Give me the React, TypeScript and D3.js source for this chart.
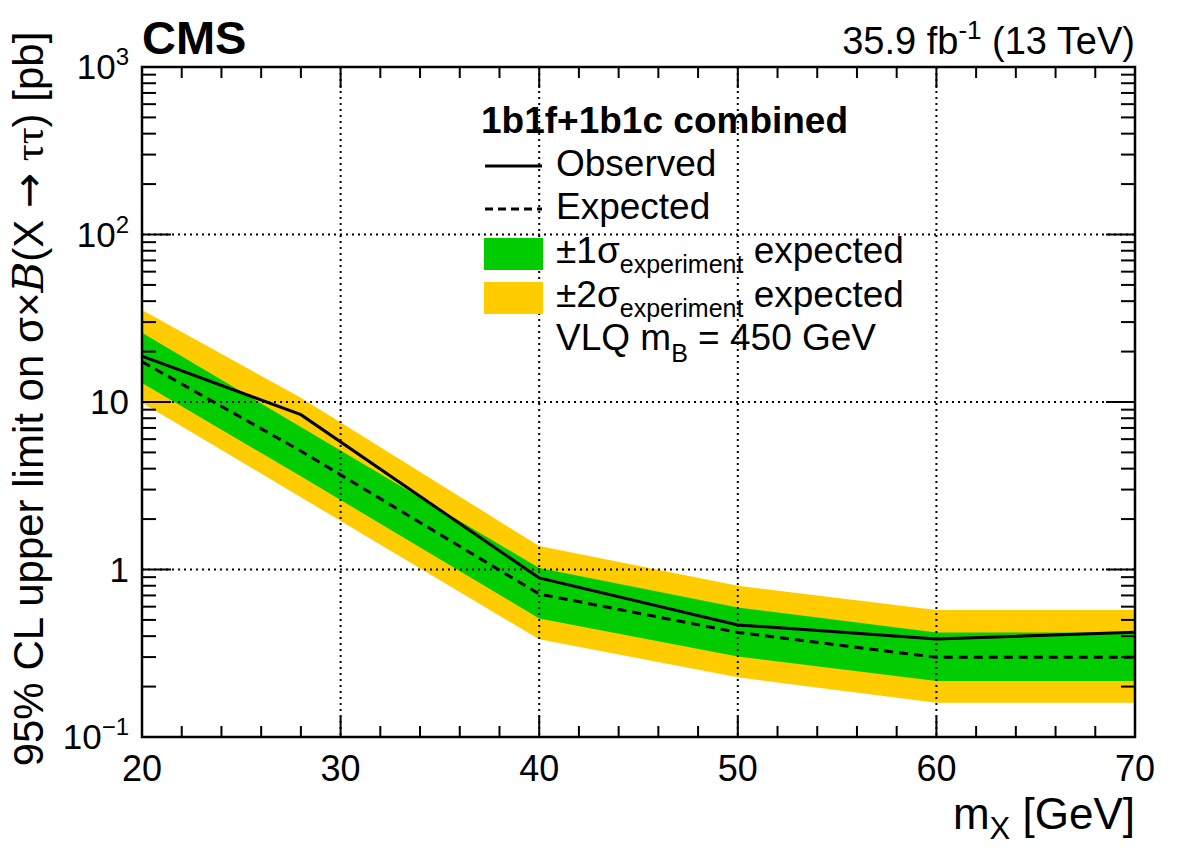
import React from 'react';
import * as d3 from 'd3';

// mass points [GeV] and limits [pb]
const massPoints = [20, 28, 40, 50, 60, 70];
const observed = [18.8, 8.4, 0.89, 0.467, 0.385, 0.422];
const expected = [17.4, 5.1, 0.714, 0.421, 0.299, 0.299];
const oneSigmaLow = [13.0, 3.6, 0.51, 0.302, 0.216, 0.216];
const oneSigmaHigh = [25.9, 7.1, 1.02, 0.594, 0.42, 0.42];
const twoSigmaLow = [9.9, 2.7, 0.383, 0.227, 0.16, 0.16];
const twoSigmaHigh = [35.4, 10.6, 1.38, 0.80, 0.573, 0.573];

const xMajorTicks = [20, 30, 40, 50, 60, 70];
const yDecades = [0.1, 1, 10, 100, 1000];
const yTickLabels: [string, string][] = [['10', '-1'], ['1', ''], ['10', ''], ['10', '2'], ['10', '3']];

const W = 1182;
const H = 848;
const margin = { top: 67, right: 47, bottom: 111, left: 142 };
const FONT = "'Liberation Sans', Arial, Helvetica, sans-serif";

const App = () => {
  const x0 = margin.left;
  const x1 = W - margin.right;
  const y0 = margin.top;
  const y1 = H - margin.bottom;

  const x = d3.scaleLinear().domain([20, 70]).range([x0, x1]);
  const y = d3.scaleLog().domain([0.1, 1000]).range([y1, y0]);

  const band = (lo: number[], hi: number[]) =>
    d3.area<number>()
      .x((d, i) => x(massPoints[i]))
      .y0((d, i) => y(lo[i]))
      .y1((d, i) => y(hi[i]))(massPoints) || '';

  const line = (vals: number[]) =>
    d3.line<number>()
      .x((d, i) => x(massPoints[i]))
      .y((d, i) => y(vals[i]))(massPoints) || '';

  const xMinor = d3.range(20, 70.001, 2);
  const yMinor: number[] = [];
  [0.1, 1, 10, 100].forEach(dec => {
    for (let k = 2; k <= 9; k++) yMinor.push(dec * k);
  });

  return (
    <svg width={W} height={H} style={{ position: 'absolute', left: 0, top: 0, background: 'white' }}
      fontFamily={FONT}>
      <rect width={W} height={H} fill="white" />

      {/* bands */}
      <path d={band(twoSigmaLow, twoSigmaHigh)} fill="#ffcc00" />
      <path d={band(oneSigmaLow, oneSigmaHigh)} fill="#00cc00" />

      {/* grid */}
      {xMajorTicks.slice(1, -1).map(t => (
        <line key={'gx' + t} x1={x(t)} x2={x(t)} y1={y0} y2={y1}
          stroke="black" strokeWidth={2} strokeDasharray="2,4" />
      ))}
      {yDecades.slice(1, -1).map(t => (
        <line key={'gy' + t} x1={x0} x2={x1} y1={y(t)} y2={y(t)}
          stroke="black" strokeWidth={2} strokeDasharray="2,4" />
      ))}

      {/* limit lines */}
      <path d={line(expected)} fill="none" stroke="black" strokeWidth={3} strokeDasharray="9,6" />
      <path d={line(observed)} fill="none" stroke="black" strokeWidth={3} />

      {/* ticks */}
      {xMinor.map(t => {
        const major = xMajorTicks.includes(Math.round(t));
        const len = major ? 21 : 11;
        return (
          <g key={'xt' + t}>
            <line x1={x(t)} x2={x(t)} y1={y1} y2={y1 - len} stroke="black" strokeWidth={2} />
            <line x1={x(t)} x2={x(t)} y1={y0} y2={y0 + len} stroke="black" strokeWidth={2} />
          </g>
        );
      })}
      {yDecades.map(t => (
        <g key={'yt' + t}>
          <line x1={x0} x2={x0 + 29} y1={y(t)} y2={y(t)} stroke="black" strokeWidth={2} />
          <line x1={x1} x2={x1 - 29} y1={y(t)} y2={y(t)} stroke="black" strokeWidth={2} />
        </g>
      ))}
      {yMinor.map(t => (
        <g key={'ym' + t}>
          <line x1={x0} x2={x0 + 14} y1={y(t)} y2={y(t)} stroke="black" strokeWidth={2} />
          <line x1={x1} x2={x1 - 14} y1={y(t)} y2={y(t)} stroke="black" strokeWidth={2} />
        </g>
      ))}

      {/* frame */}
      <rect x={x0} y={y0} width={x1 - x0} height={y1 - y0} fill="none" stroke="black" strokeWidth={2.5} />

      {/* tick labels */}
      {xMajorTicks.map(t => (
        <text key={'xl' + t} x={x(t)} y={781} fontSize={36} textAnchor="middle">{t}</text>
      ))}
      {yDecades.map((t, i) => (
        <text key={'yl' + t} x={129} y={y(t) + 12} fontSize={35} textAnchor="end">
          {yTickLabels[i][0]}
          {yTickLabels[i][1] && (
            <tspan fontSize={24} dy={-14}>{yTickLabels[i][1].replace('-', '\u2212')}</tspan>
          )}
        </text>
      ))}

      {/* axis titles */}
      <text x={x1} y={829} fontSize={44} textAnchor="end">
        m<tspan fontSize={31} dy={10}>X</tspan><tspan dy={-10}> [GeV]</tspan>
      </text>
      <text transform={`translate(43,${(y0 + y1) / 2 - 3}) rotate(-90)`} fontSize={42} textAnchor="middle">
        95% CL upper limit on σ×<tspan fontFamily="'DejaVu Serif', serif" fontStyle="italic">B</tspan>(X <tspan fontFamily="'DejaVu Sans', sans-serif">→</tspan> <tspan fontFamily="'Liberation Serif', serif">ττ</tspan>) [pb]
      </text>

      {/* header */}
      <text x={x0} y={54} fontSize={47} fontWeight="bold">CMS</text>
      <text x={x1} y={54} fontSize={38} textAnchor="end">
        35.9 fb<tspan fontSize={26} dy={-15}>-1</tspan><tspan dy={15}> (13 TeV)</tspan>
      </text>

      {/* legend */}
      <text x={481} y={133} fontSize={37} fontWeight="bold">1b1f+1b1c combined</text>
      <line x1={485} x2={542} y1={166} y2={166} stroke="black" strokeWidth={3} />
      <text x={556} y={176} fontSize={37}>Observed</text>
      <line x1={485} x2={542} y1={209} y2={209} stroke="black" strokeWidth={3} strokeDasharray="8,5" />
      <text x={556} y={219} fontSize={37}>Expected</text>
      <rect x={484} y={238} width={59} height={32} fill="#00cc00" />
      <text x={556} y={263} fontSize={37}>
        ±1σ<tspan fontSize={25} dy={10}>experiment</tspan><tspan dy={-10}> expected</tspan>
      </text>
      <rect x={484} y={282} width={59} height={32} fill="#ffcc00" />
      <text x={556} y={307} fontSize={37}>
        ±2σ<tspan fontSize={25} dy={10}>experiment</tspan><tspan dy={-10}> expected</tspan>
      </text>
      <text x={556} y={350} fontSize={37}>
        VLQ m<tspan fontSize={25} dy={12}>B</tspan><tspan dy={-12}> = 450 GeV</tspan>
      </text>
    </svg>
  );
};

export default App;
